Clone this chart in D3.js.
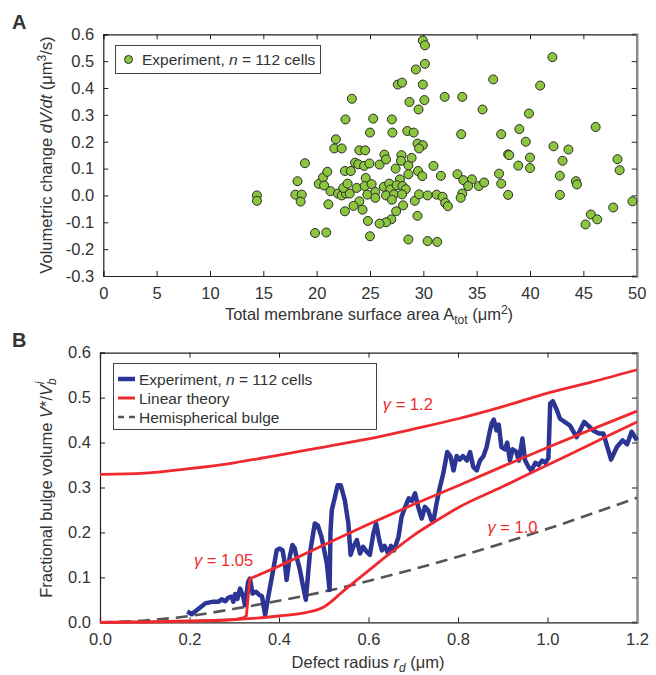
<!DOCTYPE html>
<html>
<head>
<meta charset="utf-8">
<script src="https://cdn.jsdelivr.net/npm/d3@7"></script>
<style>
  body { margin: 0; background: #fff; }
  svg text { font-family: "Liberation Sans", Arial, sans-serif; fill: #333; }
</style>
</head>
<body>
<div id="container"></div>
<script>
// Panel A: area (um^2) vs dV/dt (um^3/s)
var areaA = [14.4,14.4,18.9,18.2,18.0,18.6,18.5,19.85,20.9,20.2,20.6,20.7,21.0,21.1,21.3,21.8,21.65,22.35,22.7,23.3,
  22.65,23.2,22.0,22.35,22.75,23.1,22.5,22.9,23.75,23.6,23.9,24.0,24.55,24.45,24.95,24.6,24.5,25.15,24.75,25.5,
  25.5,24.0,23.45,24.3,22.65,24.8,25.0,25.0,25.3,25.9,26.35,26.5,27.05,27.1,27.4,27.95,27.9,28.6,28.9,27.8,
  28.6,26.3,26.8,26.9,27.5,28.05,28.35,26.5,27.25,28.0,27.05,29.2,29.6,30.4,31.25,31.8,32.05,32.3,28.1,27.45,
  27.0,26.5,25.9,29.45,28.6,30.4,31.3,29.5,29.9,30.95,31.65,33.2,28.5,29.1,29.45,29.95,29.6,28.7,29.55,30.1,
  29.95,27.6,28.0,29.3,30.15,29.95,30.15,32.0,33.65,36.55,42.1,40.95,35.55,39.9,39.0,46.15,33.55,37.3,39.6,42.2,
  43.6,37.95,38.05,40.0,43.05,48.2,48.4,38.9,40.0,33.75,34.55,34.2,35.2,35.7,37.1,37.3,42.8,44.3,44.4,37.95,
  42.8,33.65,33.5,49.6,47.8,45.7,46.3,45.2];
var rateA = [0.0,-0.02,0.12,0.053,0.003,0.003,-0.023,-0.14,-0.138,0.043,0.067,0.037,0.088,-0.033,0.016,0.209,0.175,0.175,0.283,0.36,
  0.091,0.091,0.007,0.0,0.007,0.007,0.028,0.044,0.028,0.122,0.116,0.168,0.168,0.11,0.119,0.065,0.035,0.042,0.003,0.013,
  -0.009,-0.022,-0.039,-0.053,-0.059,-0.095,-0.152,0.234,0.286,0.115,0.152,0.134,0.283,0.234,0.1,0.15,0.129,0.112,0.14,0.06,
  0.079,0.032,0.044,0.022,0.038,0.035,0.023,0.0,0.004,0.004,-0.016,-0.02,0.004,0.0,0.003,-0.005,-0.028,-0.04,-0.037,-0.059,
  -0.089,-0.1,-0.105,-0.076,-0.164,-0.17,-0.173,0.091,0.072,0.11,0.073,0.079,0.24,0.234,0.193,0.187,0.175,0.348,0.32,0.355,
  0.413,0.413,0.42,0.469,0.49,0.577,0.559,0.367,0.367,0.432,0.515,0.409,0.32,0.305,0.247,0.255,0.228,0.228,0.2,0.183,
  0.171,0.153,0.15,0.141,0.129,0.135,0.094,0.111,0.102,0.057,0.06,0.035,0.035,0.048,0.081,0.044,0.073,0.053,0.041,0.002,
  0.002,0.007,-0.009,-0.022,-0.045,-0.071,-0.089,-0.108];

var xTicksA = [0,5,10,15,20,25,30,35,40,45,50];
var yTicksA = [-0.3,-0.2,-0.1,0.0,0.1,0.2,0.3,0.4,0.5,0.6];

// Panel B: defect radius (um) vs fractional bulge volume
var expR = [0.195,0.205,0.216,0.235,0.253,0.265,0.272,0.28,0.287,0.294,0.298,0.302,0.307,0.313,0.32,0.324,0.331,0.335,0.341,0.349,
  0.356,0.362,0.369,0.376,0.387,0.395,0.402,0.408,0.413,0.417,0.424,0.43,0.435,0.439,0.446,0.454,0.46,0.469,0.48,0.487,
  0.495,0.507,0.513,0.515,0.518,0.525,0.531,0.538,0.547,0.555,0.56,0.566,0.574,0.581,0.588,0.596,0.603,0.611,0.617,0.624,
  0.63,0.636,0.644,0.65,0.657,0.667,0.674,0.682,0.69,0.697,0.704,0.711,0.719,0.726,0.733,0.741,0.746,0.752,0.758,0.767,
  0.776,0.783,0.79,0.797,0.804,0.811,0.82,0.827,0.834,0.842,0.849,0.857,0.864,0.87,0.875,0.88,0.886,0.891,0.897,0.905,
  0.91,0.916,0.922,0.93,0.936,0.944,0.95,0.958,0.964,0.973,0.98,0.988,0.995,1.002,1.006,1.012,1.021,1.028,1.04,1.05,
  1.065,1.082,1.102,1.115,1.125,1.142,1.155,1.168,1.178,1.188,1.2];
var expV = [0.024,0.018,0.027,0.042,0.046,0.046,0.051,0.047,0.055,0.057,0.046,0.063,0.052,0.075,0.057,0.038,0.09,0.097,0.064,0.068,
  0.061,0.058,0.016,0.057,0.116,0.161,0.164,0.16,0.131,0.094,0.146,0.172,0.165,0.146,0.12,0.079,0.05,0.153,0.22,0.215,
  0.19,0.131,0.072,0.2,0.25,0.279,0.305,0.305,0.272,0.22,0.15,0.168,0.183,0.153,0.168,0.157,0.15,0.198,0.22,0.183,
  0.16,0.17,0.153,0.17,0.16,0.19,0.235,0.257,0.276,0.27,0.287,0.257,0.231,0.257,0.25,0.227,0.23,0.264,0.294,0.331,
  0.379,0.37,0.338,0.37,0.362,0.37,0.36,0.379,0.346,0.338,0.36,0.37,0.39,0.42,0.442,0.451,0.427,0.44,0.39,0.385,
  0.4,0.36,0.385,0.38,0.36,0.409,0.36,0.345,0.338,0.355,0.35,0.36,0.355,0.365,0.487,0.492,0.472,0.453,0.445,0.438,
  0.412,0.446,0.427,0.42,0.42,0.362,0.39,0.405,0.396,0.424,0.405];

var g12R = [0,0.1,0.2,0.3,0.4,0.5,0.6,0.7,0.8,0.9,1.0,1.1,1.2];
var g12V = [0.329,0.332,0.342,0.355,0.372,0.39,0.408,0.43,0.453,0.48,0.51,0.535,0.562];
var g105R = [0,0.1,0.2,0.25,0.3,0.32,0.327,0.335,0.4,0.5,0.6,0.7,0.8,0.9,1.0,1.1,1.2];
var g105V = [0,0.0005,0.002,0.003,0.006,0.01,0.014,0.097,0.125,0.172,0.218,0.262,0.304,0.347,0.389,0.43,0.47];
var g10R = [0,0.1,0.2,0.3,0.4,0.45,0.5,0.55,0.6,0.65,0.7,0.75,0.8,0.9,1.0,1.1,1.2];
var g10V = [0,0.001,0.003,0.006,0.014,0.02,0.034,0.075,0.115,0.155,0.193,0.225,0.255,0.302,0.35,0.398,0.446];
var hemiR = [0,0.1,0.2,0.3,0.4,0.5,0.6,0.7,0.8,0.9,1.0,1.1,1.2];
var hemiV = [0,0.004,0.014,0.03,0.048,0.068,0.092,0.118,0.146,0.176,0.208,0.242,0.277];

var xTicksB = [0,0.2,0.4,0.6,0.8,1.0,1.2];
var yTicksB = [0,0.1,0.2,0.3,0.4,0.5,0.6];

var BLUE = "#2c3593", RED = "#ee2a2e", GREEN = "#8cc63e", DASH = "#555";
var FS = 16;

const svg = d3.select("#container").append("svg")
  .attr("width", 656).attr("height", 675);

function frame(g, x, y, xt, yt, xfmt, yfmt, bottomY, leftX, rightX, topY) {
  var tick = 5;
  g.append("g").attr("transform", "translate(0," + bottomY + ")")
    .call(d3.axisBottom(x).tickValues(xt).tickSize(-tick).tickPadding(11).tickFormat(xfmt));
  g.append("g").attr("transform", "translate(" + leftX + ",0)")
    .call(d3.axisLeft(y).tickValues(yt).tickSize(-tick).tickPadding(9).tickFormat(yfmt));
  g.append("g").attr("transform", "translate(0," + topY + ")")
    .call(d3.axisTop(x).tickValues(xt).tickSize(-tick).tickFormat(""));
  g.append("g").attr("class", "right").attr("transform", "translate(" + rightX + ",0)")
    .call(d3.axisRight(y).tickValues(yt).tickSize(-tick).tickFormat(""));
  g.selectAll(".domain").attr("stroke", "#222").attr("stroke-width", 1.2);
  g.selectAll(".tick line").attr("stroke", "#222");
  g.selectAll(".right .domain").attr("stroke", "#8c8c8c").attr("stroke-width", 2.5);
  g.selectAll(".tick text").attr("font-size", FS + 0.5).attr("fill", "#333")
    .style("font-family", "Liberation Sans, Arial, sans-serif");
}

// ---------- Panel A ----------
const xA = d3.scaleLinear().domain([0, 50]).range([103.3, 636.7]);
const yA = d3.scaleLinear().domain([-0.3, 0.6]).range([276, 34.3]);
const gA = svg.append("g");
frame(gA, xA, yA, xTicksA, yTicksA, d3.format("d"), d3.format(".1f"), 276, 103.3, 636.7, 34.3);
gA.selectAll(".tick text").text(function() { return d3.select(this).text().replace("\u2212", "-"); });

gA.append("g").selectAll("circle")
  .data(areaA.map((a, i) => [a, rateA[i]]))
  .join("circle")
  .attr("cx", d => xA(d[0]))
  .attr("cy", d => yA(d[1]))
  .attr("r", 4.5)
  .attr("fill", GREEN)
  .attr("stroke", "#2a2a2a")
  .attr("stroke-width", 1);

// legend A
gA.append("rect").attr("x", 115.5).attr("y", 45.5).attr("width", 205).attr("height", 28)
  .attr("fill", "#fff").attr("stroke", "#444");
gA.append("circle").attr("cx", 128.5).attr("cy", 59.5).attr("r", 4).attr("fill", GREEN).attr("stroke", "#2a2a2a");
var tA = gA.append("text").attr("x", 142).attr("y", 65).attr("font-size", 15.5);
tA.append("tspan").text("Experiment, ");
tA.append("tspan").attr("font-style", "italic").text("n");
tA.append("tspan").text(" = 112 cells");

// axis titles A
var xtA = gA.append("text").attr("x", 369).attr("y", 320).attr("text-anchor", "middle").attr("font-size", FS + 0.5);
xtA.append("tspan").text("Total membrane surface area A");
xtA.append("tspan").attr("font-size", 12).attr("dy", 4).text("tot");
xtA.append("tspan").attr("dy", -4).text("  (\u03bcm");
xtA.append("tspan").attr("font-size", 12).attr("dy", -6).text("2");
xtA.append("tspan").attr("dy", 6).text(")");

var ytA = gA.append("text").attr("transform", "translate(52,155) rotate(-90)")
  .attr("text-anchor", "middle").attr("font-size", FS + 0.5);
ytA.append("tspan").text("Volumetric change ");
ytA.append("tspan").attr("font-style", "italic").text("dV/dt");
ytA.append("tspan").text("  (\u03bcm");
ytA.append("tspan").attr("font-size", 12).attr("dy", -6).text("3");
ytA.append("tspan").attr("dy", 6).text("/s)");

svg.append("text").attr("x", 12).attr("y", 29).attr("font-size", 20).attr("font-weight", "bold")
  .attr("fill", "#111").text("A");

// ---------- Panel B ----------
const xB = d3.scaleLinear().domain([0, 1.2]).range([100, 637]);
const yB = d3.scaleLinear().domain([0, 0.6]).range([622.3, 352.7]);
const gB = svg.append("g");
frame(gB, xB, yB, xTicksB, yTicksB, d3.format(".1f"), d3.format(".1f"), 622.3, 100, 637, 352.7);

const lineB = d3.line().x(d => xB(d[0])).y(d => yB(d[1]));
const smoothB = d3.line().x(d => xB(d[0])).y(d => yB(d[1])).curve(d3.curveMonotoneX);

gB.append("path").datum(hemiR.map((r, i) => [r, hemiV[i]]))
  .attr("d", smoothB).attr("fill", "none").attr("stroke", DASH)
  .attr("stroke-width", 2.6).attr("stroke-dasharray", "12,7");

gB.append("path").datum(expR.map((r, i) => [r, expV[i]]))
  .attr("d", lineB).attr("fill", "none").attr("stroke", BLUE)
  .attr("stroke-width", 4.5).attr("stroke-linejoin", "round");

[[g12R, g12V, smoothB], [g105R, g105V, lineB], [g10R, g10V, smoothB]].forEach(function(s) {
  gB.append("path").datum(s[0].map((r, i) => [r, s[1][i]]))
    .attr("d", s[2]).attr("fill", "none").attr("stroke", RED)
    .attr("stroke-width", 2.8).attr("stroke-linejoin", "round");
});

// gamma labels
function gammaLabel(x, y, val) {
  var t = gB.append("text").attr("x", x).attr("y", y).attr("font-size", 16.5).attr("fill", RED);
  t.append("tspan").attr("font-style", "italic").attr("fill", RED).text("\u03b3");
  t.append("tspan").attr("fill", RED).text(" = " + val);
}
gammaLabel(xB(0.632), yB(0.472), "1.2");
gammaLabel(xB(0.866), yB(0.198), "1.0");
gammaLabel(xB(0.21), yB(0.126), "1.05");

// legend B
gB.append("rect").attr("x", 113.5).attr("y", 363.5).attr("width", 263).attr("height", 66)
  .attr("fill", "#fff").attr("stroke", "#444");
var legB = [
  {label: "exp", color: BLUE, w: 4.5, dash: null, y: 379},
  {label: "Linear theory", color: RED, w: 3, dash: null, y: 398},
  {label: "Hemispherical bulge", color: DASH, w: 2.6, dash: "6,5", y: 417}
];
legB.forEach(function(d) {
  gB.append("line").attr("x1", 118).attr("x2", 135).attr("y1", d.y).attr("y2", d.y)
    .attr("stroke", d.color).attr("stroke-width", d.w).attr("stroke-dasharray", d.dash);
  var t = gB.append("text").attr("x", 139).attr("y", d.y + 5.5).attr("font-size", 15.5);
  if (d.label == "exp") {
    t.append("tspan").text("Experiment, ");
    t.append("tspan").attr("font-style", "italic").text("n");
    t.append("tspan").text(" = 112 cells");
  } else {
    t.text(d.label);
  }
});

// axis titles B
var xtB = gB.append("text").attr("x", 368).attr("y", 668).attr("text-anchor", "middle").attr("font-size", FS + 0.5);
xtB.append("tspan").text("Defect radius ");
xtB.append("tspan").attr("font-style", "italic").text("r");
xtB.append("tspan").attr("font-style", "italic").attr("font-size", 12).attr("dy", 4).text("d");
xtB.append("tspan").attr("dy", -4).text(" (\u03bcm)");

var ytB = gB.append("text").attr("transform", "translate(52,488) rotate(-90)")
  .attr("text-anchor", "middle").attr("font-size", FS + 0.5);
ytB.append("tspan").text("Fractional bulge volume ");
ytB.append("tspan").attr("font-style", "italic").text("V");
ytB.append("tspan").text("*/");
ytB.append("tspan").attr("font-style", "italic").text("V");
ytB.append("tspan").attr("font-style", "italic").attr("font-size", 12).attr("dy", 4).text("b");
ytB.append("tspan").attr("font-style", "italic").attr("font-size", 12).attr("dy", -12).attr("dx", -6).text("i");

svg.append("text").attr("x", 12).attr("y", 347).attr("font-size", 20).attr("font-weight", "bold")
  .attr("fill", "#111").text("B");
</script>
</body>
</html>
